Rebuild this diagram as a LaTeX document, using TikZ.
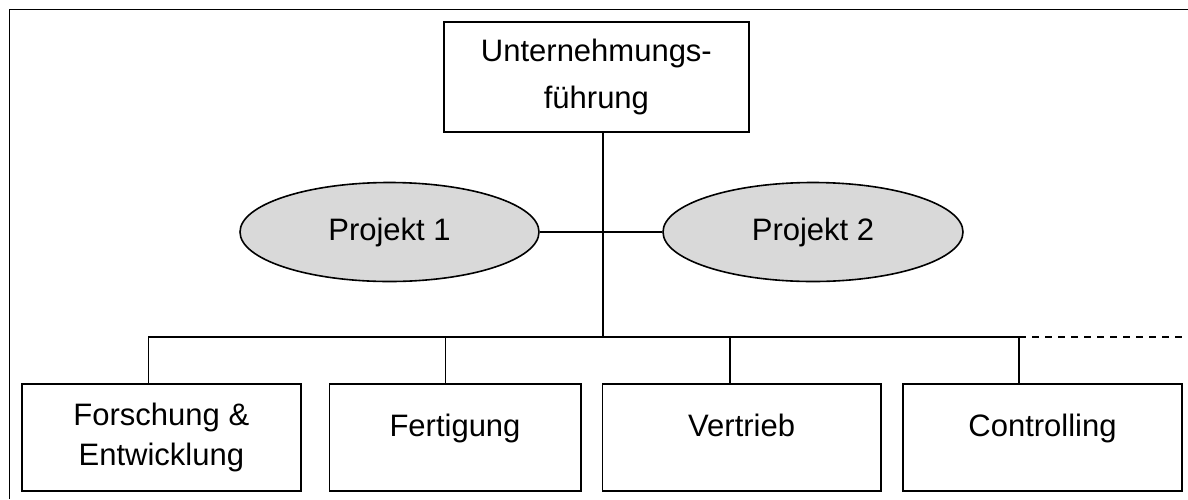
\documentclass[tikz,border=0pt]{standalone}
\usepackage{fontspec}
\setmainfont{Liberation Sans}
\usetikzlibrary{shapes.geometric}
\tikzset{
  ln/.style={line width=1.6pt, black},
  boxnode/.style={draw, ln, rectangle, inner sep=0pt, align=center, font=\fontsize{31}{40}\selectfont},
  oneline/.style={text height=0.72em, text depth=0.88em},
  projnode/.style={draw, ln, ellipse, fill=gray!30, inner sep=0pt, minimum width=299pt, minimum height=99pt, font=\fontsize{31}{40}\selectfont},
}
\begin{document}
\begin{tikzpicture}[x=1pt,y=-1pt]
\useasboundingbox (0,0) rectangle (1188,499);
% frame (top and left edges visible)
\draw[ln] (9.5,499) -- (9.5,9.5) -- (1188,9.5);
% top box
\node[boxnode, minimum width=304.7pt, minimum height=110pt, font=\fontsize{31}{46.5}\selectfont] (top) at (596.4,77) {Unternehmungs-\\führung};
% projects
\node[projnode] (p1) at (389.5,232) {Projekt 1};
\node[projnode, minimum width=300pt] (p2) at (813,232) {Projekt 2};
% bottom boxes
\node[boxnode, minimum width=278.7pt, minimum height=107pt] (b1) at (161.35,437.5) {Forschung \&\\Entwicklung};
\node[boxnode, oneline, minimum width=251.4pt, minimum height=107pt] (b2) at (455,437.5) {Fertigung};
\node[boxnode, oneline, minimum width=278.7pt, minimum height=107pt] (b3) at (741.65,437.5) {Vertrieb};
\node[boxnode, oneline, minimum width=279pt, minimum height=107pt] (b4) at (1042.5,437.5) {Controlling};
% junctions
\coordinate (bus) at (602.7,336.7);
\coordinate (j1) at (148.3,336.7);
\coordinate (j2) at (445.3,336.7);
\coordinate (j3) at (730,336.7);
\coordinate (j4) at (1019,336.7);
\coordinate (dend) at (1182,336.7);
% connectors
\draw[ln] (top.south -| bus) -- (bus);
\draw[ln] (p1.east) -- (p2.west);
\draw[ln] (j1 |- b1.north) -- (j1) -- (j4) -- (j4 |- b4.north);
\draw[ln] (j2) -- (j2 |- b2.north);
\draw[ln] (j3) -- (j3 |- b3.north);
\draw[ln, dash pattern=on 7pt off 6pt] (j4) -- (dend);
\end{tikzpicture}
\end{document}
